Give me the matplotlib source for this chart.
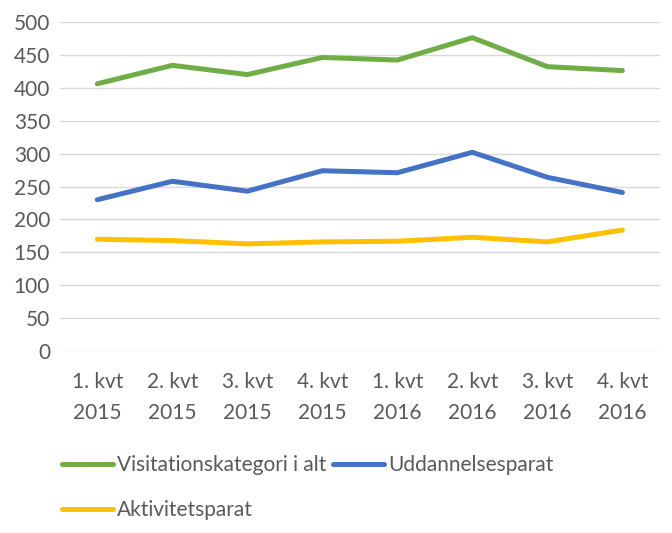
import matplotlib.pyplot as plt

# data
quarters = ["1. kvt\n2015", "2. kvt\n2015", "3. kvt\n2015", "4. kvt\n2015",
            "1. kvt\n2016", "2. kvt\n2016", "3. kvt\n2016", "4. kvt\n2016"]
visitation = [406, 434, 420, 446, 442, 476, 432, 426]
uddannelse = [230, 258, 243, 274, 271, 302, 264, 241]
aktivitet = [170, 168, 163, 166, 167, 173, 166, 184]

plt.rcParams['font.family'] = ['Lato', 'DejaVu Sans']
grey = '#595959'

fig = plt.figure(figsize=(6.72, 5.33), dpi=100)
ax = fig.add_axes([0.089, 0.341, 0.893, 0.618])

x = range(len(quarters))
l1, = ax.plot(x, visitation, color='#70AD47', lw=3.6, solid_capstyle='round',
              label='Visitationskategori i alt')
l2, = ax.plot(x, uddannelse, color='#4472C4', lw=3.6, solid_capstyle='round',
              label='Uddannelsesparat')
l3, = ax.plot(x, aktivitet, color='#FFC000', lw=3.6, solid_capstyle='round',
              label='Aktivitetsparat')

ax.set_xlim(-0.5, len(quarters) - 0.5)
ax.set_ylim(0, 500)
ax.set_yticks(range(0, 501, 50))
ax.set_xticks(list(x))
ax.set_xticklabels(quarters, linespacing=1.7)
ax.grid(axis='y', color='#D9D9D9', lw=1)
ax.set_axisbelow(True)
for s in ax.spines.values():
    s.set_visible(False)
ax.tick_params(length=0, labelsize=15, labelcolor=grey)
ax.tick_params(axis='y', pad=7)
ax.tick_params(axis='x', pad=15)

# order so the legend fills row by row like the original
fig.legend([l1, l3, l2], [l1.get_label(), l3.get_label(), l2.get_label()],
           loc='upper left', bbox_to_anchor=(0.092, 0.146), ncol=2,
           frameon=False, fontsize=15, labelcolor=grey, handlelength=2.45,
           handletextpad=0.2, columnspacing=0.3, borderaxespad=0,
           borderpad=0, labelspacing=1.2)

fig.savefig('out.png', dpi=100)
